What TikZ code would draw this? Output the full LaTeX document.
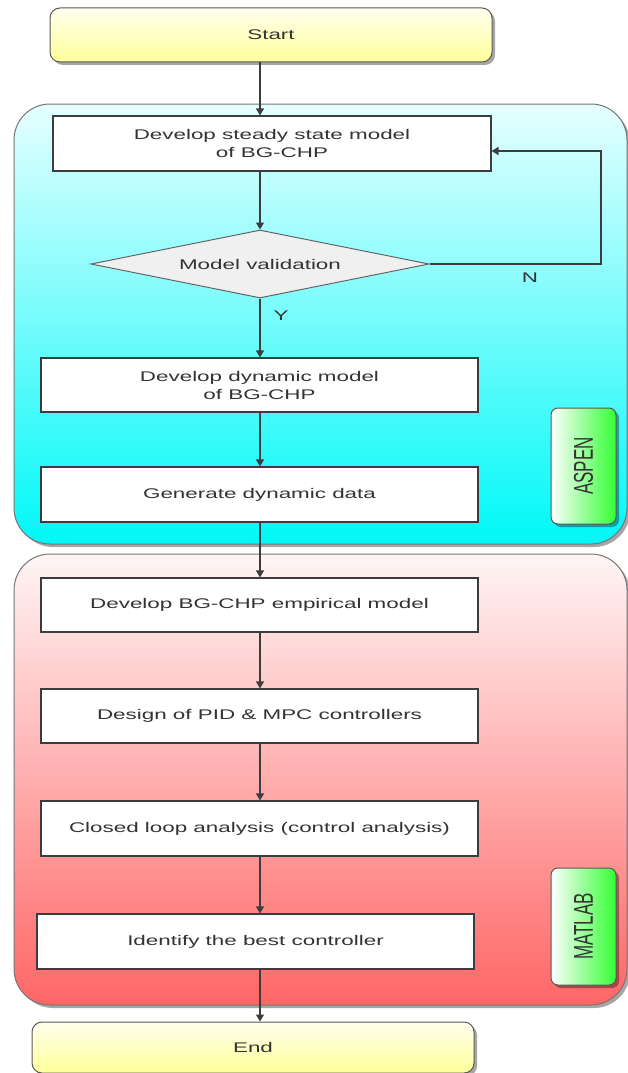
\documentclass[tikz,border=0pt]{standalone}
\usepackage{fontspec}
\setmainfont{Liberation Sans}[FakeStretch=1.6]
\newfontfamily\lblfont{Liberation Sans}
\usetikzlibrary{arrows.meta,shapes.geometric,shadows}
\definecolor{txt}{HTML}{333333}
\definecolor{ln}{HTML}{3C3C3C}
\definecolor{yelA}{HTML}{FFFFEE}
\definecolor{yelB}{HTML}{FFFF99}
\definecolor{cyA}{HTML}{E6FFFF}
\definecolor{cyB}{HTML}{00F8F8}
\definecolor{pkA}{HTML}{FFF5F5}
\definecolor{pkB}{HTML}{FF6666}
\definecolor{grB}{HTML}{33FF33}
\tikzset{
  shd/.style={drop shadow={shadow xshift=3pt,shadow yshift=-3pt,opacity=0.35,fill=black}},
  proc/.style={draw=ln,line width=1.2pt,fill=white,minimum width=437pt,minimum height=55pt,align=center,inner sep=0pt},
  term/.style={draw=ln!85,line width=1pt,rounded corners=10pt,top color=yelA,bottom color=yelB,minimum width=442pt,minimum height=54pt,shd},
  region/.style={draw=ln!70,line width=1pt,rounded corners=36pt,minimum width=613pt,shd},
  lbl/.style={draw=ln!85,line width=1pt,rounded corners=7pt,left color=white,right color=grB,minimum width=65pt,inner sep=0pt,shd},
  arr/.style={draw=ln,line width=1.3pt,-{Triangle[width=8pt,length=7pt]}},
  dec/.style={diamond,aspect=5,draw=ln!80,line width=1pt,fill=white!94!black,minimum width=338pt,minimum height=68pt,inner sep=0pt}
}
\newcommand{\rottext}[1]{\rotatebox{90}{\lblfont\fontsize{17}{17}\selectfont\scalebox{1}[1.6]{#1}}}
\begin{document}
\begin{tikzpicture}[x=1pt,y=-1pt,font=\fontsize{14}{18}\selectfont,text=txt]
\useasboundingbox (0,0) rectangle (628,1073);
% regions
\node[region,minimum height=440pt,top color=cyA,bottom color=cyB] (aspenreg) at (320.5,324) {};
\node[region,minimum height=451pt,top color=pkA,bottom color=pkB] (matlabreg) at (320.5,779.5) {};
% labels
\node[lbl,minimum height=116pt] (aspen) at (583.5,466) {\rottext{ASPEN}};
\node[lbl,minimum height=117pt] (matlab) at (583.5,926.5) {\rottext{MATLAB}};
% terminals
\node[term] (start) at (271,35) {Start};
\node[term,minimum height=51pt] (end) at (253,1047.5) {End};
% process boxes
\node[proc,minimum width=438pt] (b1) at (272,143.5) {Develop steady state model\\of BG-CHP};
\node[dec] (dia) at (260,264) {Model validation};
\node[proc,minimum height=54pt] (b2) at (259.5,385) {Develop dynamic model\\of BG-CHP};
\node[proc] (b3) at (259.5,494.5) {Generate dynamic data};
\node[proc,minimum height=54pt] (b4) at (259.5,605) {Develop BG-CHP empirical model};
\node[proc,minimum height=54pt] (b5) at (259.5,716) {Design of PID \& MPC controllers};
\node[proc] (b6) at (259.5,828.5) {Closed loop analysis (control analysis)};
\node[proc] (b7) at (255.5,941.5) {Identify the best controller};
% coordinates for connectors
\coordinate (ax) at (260,0);
\coordinate (nc) at (601,151);
\draw[arr] (start.south -| ax) -- (b1.north -| ax);
\draw[arr] (b1.south -| ax) -- (dia.north);
\draw[arr] (dia.south) -- (b2.north -| ax);
\draw[arr] (b2.south -| ax) -- (b3.north -| ax);
\draw[arr] (b3.south -| ax) -- (b4.north -| ax);
\draw[arr] (b4.south -| ax) -- (b5.north -| ax);
\draw[arr] (b5.south -| ax) -- (b6.north -| ax);
\draw[arr] (b6.south -| ax) -- (b7.north -| ax);
\draw[arr] (b7.south -| ax) -- (end.north -| ax);
\draw[arr] (dia.east) -| (nc) -- (nc -| b1.east);
\node (ylab) at (281,316) {Y};
\node (nlab) at (530,278) {N};
\end{tikzpicture}
\end{document}
